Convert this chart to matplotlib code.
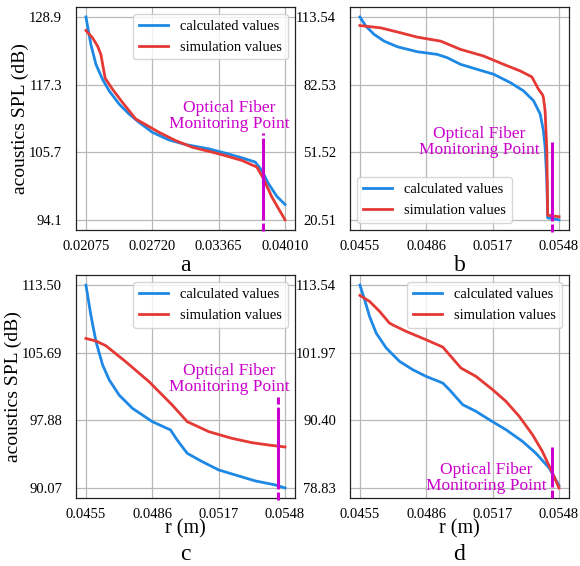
import numpy as np
import matplotlib
matplotlib.use("Agg")
import matplotlib.pyplot as plt

plt.rcParams['font.family'] = ['Liberation Serif', 'DejaVu Serif']

# ---- panel a ----
xa_calc = [0.02075, 0.02123, 0.02172, 0.02236, 0.02301, 0.02398, 0.02494, 0.02591,
           0.02720, 0.02881, 0.03043, 0.03268, 0.03430, 0.03591, 0.03720, 0.03784,
           0.03849, 0.03929, 0.04010]
ya_calc = [128.9, 124.18, 120.77, 118.21, 116.22, 113.94, 112.24, 110.82, 109.11,
           107.8, 107.01, 106.27, 105.53, 104.73, 104.0, 102.57, 100.3, 98.14, 96.72]
xa_sim = [0.02075, 0.02139, 0.02188, 0.0222, 0.02262, 0.02333, 0.02430, 0.02559,
          0.02656, 0.02785, 0.02946, 0.03107, 0.03365, 0.03591, 0.03736, 0.03800,
          0.03881, 0.03946, 0.04010]
ya_sim = [126.57, 125.32, 123.9, 122.47, 118.38, 116.5, 114.23, 111.39, 110.42,
          109.11, 107.69, 106.55, 105.42, 104.28, 103.14, 101.15, 98.03, 96.03, 94.1]
xticks_a = [0.02075, 0.02720, 0.03365, 0.04010]
yticks_a = [94.1, 105.7, 117.3, 128.9]

# ---- panel b ----
xb_calc = [0.0455, 0.04578, 0.04617, 0.04663, 0.04725, 0.04818, 0.04911, 0.04958,
           0.0502, 0.05097, 0.05175, 0.05252, 0.05314, 0.05361, 0.05392, 0.05407,
           0.05415, 0.05423, 0.05427, 0.0548]
yb_calc = [113.54, 109.28, 105.48, 102.44, 99.86, 97.58, 96.36, 94.84, 91.8, 89.52,
           87.24, 83.44, 79.64, 75.1, 69.0, 61.4, 53.8, 38.6, 21.4, 20.51]
xb_sim = [0.0455, 0.04648, 0.04741, 0.04818, 0.04927, 0.0502, 0.05128, 0.05221,
          0.05299, 0.05353, 0.05384, 0.05403, 0.05407, 0.05415, 0.05423, 0.05427, 0.0548]
yb_sim = [109.59, 108.52, 106.24, 104.27, 102.44, 98.64, 95.6, 91.8, 88.76, 86.03,
          80.4, 77.82, 76.6, 70.5, 52.28, 22.6, 21.9]
xticks_b = [0.0455, 0.0486, 0.0517, 0.0548]
yticks_b = [20.51, 51.52, 82.53, 113.54]

# ---- panel c ----
xc_calc = [0.0455, 0.04573, 0.04597, 0.04628, 0.04659, 0.04705, 0.04767, 0.0486,
           0.04945, 0.04976, 0.05023, 0.05093, 0.0517, 0.05248, 0.05341, 0.05434, 0.0548]
yc_calc = [113.5, 110.04, 106.96, 104.27, 102.54, 100.80, 99.27, 97.73, 96.77, 95.61,
           94.07, 93.11, 92.15, 91.57, 90.88, 90.42, 90.07]
xc_sim = [0.0455, 0.04597, 0.04643, 0.04736, 0.04845, 0.04953, 0.05023, 0.05124,
          0.05232, 0.05325, 0.05403, 0.0548]
yc_sim = [107.34, 107.04, 106.5, 104.65, 102.34, 99.65, 97.73, 96.57, 95.8, 95.3,
          95.03, 94.8]
xticks_c = [0.0455, 0.0486, 0.0517, 0.0548]
yticks_c = [90.07, 97.88, 105.69, 113.50]

# ---- panel d ----
xd_calc = [0.0455, 0.04572, 0.04595, 0.04626, 0.04673, 0.04735, 0.04797, 0.04859,
           0.04937, 0.04968, 0.05030, 0.05092, 0.05154, 0.05232, 0.05309, 0.05371,
           0.05434, 0.0548]
yd_calc = [113.54, 111.03, 108.18, 105.33, 102.77, 100.49, 99.06, 97.92, 96.78, 95.64,
           93.08, 91.94, 90.51, 88.80, 86.81, 84.81, 82.25, 79.23]
xd_sim = [0.0455, 0.04595, 0.04642, 0.04688, 0.04711, 0.04766, 0.04859, 0.04937,
          0.04968, 0.05022, 0.05092, 0.05170, 0.05232, 0.05294, 0.05356, 0.05402,
          0.05449, 0.0548]
yd_sim = [111.77, 110.75, 109.04, 107.04, 106.59, 105.62, 104.19, 102.94, 101.63,
          99.35, 97.92, 95.64, 93.65, 91.08, 87.95, 85.10, 81.40, 78.83]
xticks_d = [0.0455, 0.0486, 0.0517, 0.0548]
yticks_d = [78.83, 90.40, 101.97, 113.54]

# monitoring point line (x, ymin, ymax) and text centre (x, y)
mon_line = [(0.03797, 92.1, 108.94), (0.05447, 15.0, 56.1),
            (0.05447, 88.7, 100.57), (0.05447, 77.1, 85.84)]
mon_text = [(0.03468, 111.84), (0.05108, 56.3), (0.0522, 102.65), (0.05141, 80.54)]

panels = [
    (xa_calc, ya_calc, xa_sim, ya_sim, xticks_a, yticks_a, "%.5f", "%.1f", 'upper right'),
    (xb_calc, yb_calc, xb_sim, yb_sim, xticks_b, yticks_b, "%.4f", "%.2f", 'lower left'),
    (xc_calc, yc_calc, xc_sim, yc_sim, xticks_c, yticks_c, "%.4f", "%.2f", 'upper right'),
    (xd_calc, yd_calc, xd_sim, yd_sim, xticks_d, yticks_d, "%.4f", "%.2f", 'upper right'),
]
letters = ['a', 'b', 'c', 'd']

blue = '#1E88E5'
red = '#E53935'
mag = '#CC00CC'

fig, axes = plt.subplots(2, 2, figsize=(5.8, 5.66), dpi=100)
fig.subplots_adjust(left=0.131, right=0.981, top=0.988, bottom=0.12, wspace=0.251, hspace=0.202)

for i, ax in enumerate(axes.flat):
    xc, yc, xs, ys, xt, yt, xf, yf, loc = panels[i]
    ax.plot(xc, yc, color=blue, lw=2.0, label='calculated values')
    ax.plot(xs, ys, color=red, lw=2.0, label='simulation values')
    ax.set_xticks(xt)
    ax.set_xticklabels([xf % v for v in xt])
    ax.set_yticks(yt)
    ax.set_yticklabels([yf % v for v in yt])
    dx = xt[-1] - xt[0]
    dy = yt[-1] - yt[0]
    ax.set_xlim(xt[0] - 0.05 * dx, xt[-1] + 0.05 * dx)
    ax.set_ylim(yt[0] - 0.05 * dy, yt[-1] + 0.05 * dy)
    ax.grid(True, color='#b8b8b8', lw=0.9)
    ax.tick_params(axis='both', length=0, labelsize=10.5)
    ax.tick_params(axis='x', pad=7)
    ax.tick_params(axis='y', pad=10)
    for sp in ax.spines.values():
        sp.set_color('#222222')
        sp.set_linewidth(0.9)

    mx, y0, y1 = mon_line[i]
    ax.vlines(mx, y0, y1, color=mag, lw=2.2, linestyles=[(24.2, (26.8, 1.0))], clip_on=False, zorder=5)
    tx, ty = mon_text[i]
    ax.text(tx, ty, "Optical Fiber\nMonitoring Point", color=mag, fontsize=12.5,
            ha='center', va='center', linespacing=1.0, zorder=6)
    ax.legend(loc=loc, fontsize=10.5)

    if i < 2:
        ax.set_xlabel(letters[i], fontsize=17, labelpad=2)
    else:
        ax.set_xlabel("r (m)", fontsize=14.5, labelpad=-1)
        ax.text(0.5, -0.255, letters[i], transform=ax.transAxes, fontsize=17,
                ha='center', va='center')
    if i % 2 == 0:
        ax.set_ylabel("acoustics SPL (dB)", fontsize=14, labelpad=0)

fig.savefig("out.png", dpi=100)
